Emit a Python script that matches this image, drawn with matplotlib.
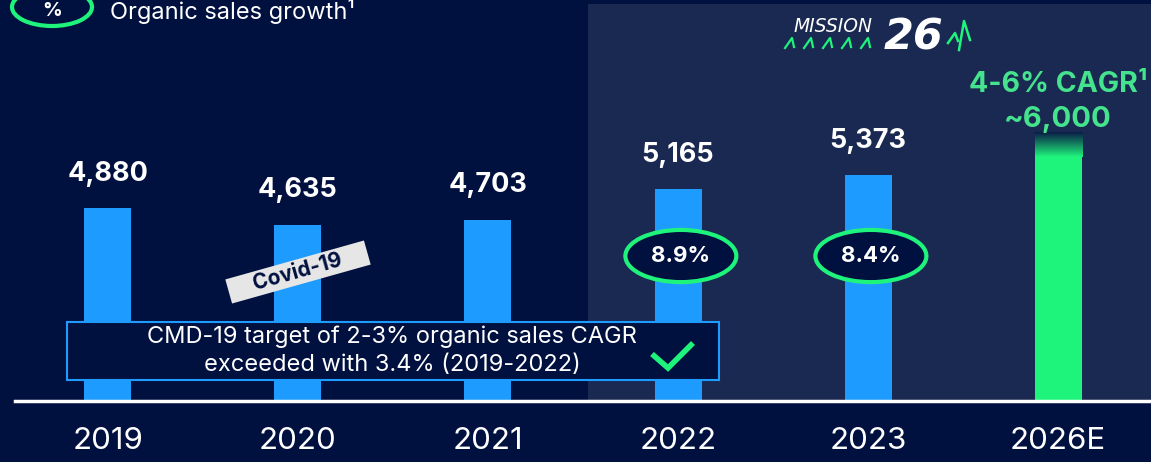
import matplotlib
matplotlib.use("Agg")
import matplotlib.pyplot as plt
from matplotlib.patches import Rectangle, Ellipse
from matplotlib.lines import Line2D
from matplotlib.transforms import Affine2D
import matplotlib.colors as mcolors
import numpy as np

# ---- data ----
years = ["2019", "2020", "2021", "2022", "2023", "2026E"]
sales = [4880, 4635, 4703, 5165, 5373, 6000]
growth_years = ["2022", "2023"]
growth_labels = ["8.9%", "8.4%"]
target_label = "4-6% CAGR\u00b9"
target_value_label = "~6,000"

BG = "#00103F"
PANEL = "#1A2951"
BLUE = "#1E9BFF"
GREEN = "#1EF47C"
LGREEN = "#45E38E"
WHITE = "#FFFFFF"

plt.rcParams['font.family'] = ['Inter', 'DejaVu Sans']

W, H = 1151, 462
fig = plt.figure(figsize=(W / 100, H / 100), dpi=100, facecolor=BG)


def fx(x):
    return x / W


def fy(y):
    return 1 - y / H


# shaded Mission-26 panel
fig.add_artist(Rectangle((fx(588), fy(400)), fx(1151) - fx(588), fy(4) - fy(400),
                         transform=fig.transFigure, facecolor=PANEL,
                         edgecolor='none', zorder=-5))

ax = fig.add_axes([fx(15), fy(401), fx(1151) - fx(15), 401 / H])
ax.set_facecolor('none')
YMIN, YMAX = 2000, 7994
XMIN, XMAX = -0.489, 5.489

x = np.arange(len(years))
bw = 47 / 190
colors = [BLUE] * (len(years) - 1) + [GREEN]
ax.bar(x, sales, width=bw, color=colors, zorder=2)

# gradient top of the estimate bar
n = 100
c_top = np.array(mcolors.to_rgb("#0A1C46"))
c_bot = np.array(mcolors.to_rgb(GREEN))
t = np.linspace(0, 1, n)[:, None]
grad = (c_top * (1 - t) + c_bot * t)[:, None, :]
i_last = len(years) - 1
ax.imshow(grad, extent=[i_last - bw / 2, i_last + bw / 2, sales[-1] - 360, sales[-1]],
          aspect='auto', origin='upper', zorder=3, interpolation='bilinear')

ax.set_xlim(XMIN, XMAX)
ax.set_ylim(YMIN, YMAX)

# value labels
for i, v in enumerate(sales[:-1]):
    ax.annotate(f"{v:,}", (i, v), xytext=(0, 25), textcoords='offset points',
                ha='center', va='center', color=WHITE, fontsize=19.5, fontweight='bold')
ax.annotate(target_value_label, (i_last, sales[-1]), xytext=(0, 10), textcoords='offset points',
            ha='center', va='center', color=LGREEN, fontsize=21, fontweight='bold', zorder=5)
ax.annotate(target_label, (i_last, sales[-1]), xytext=(0, 35), textcoords='offset points',
            ha='center', va='center', color=LGREEN, fontsize=20.5, fontweight='bold', zorder=5)

# growth ellipses
for gy, gl in zip(growth_years, growth_labels):
    i = years.index(gy)
    ax.add_patch(Ellipse((i + 0.015, 4167), 0.584, 780, facecolor=BG, edgecolor=GREEN,
                         lw=3, zorder=4))
    ax.text(i + 0.015, 4167, gl, ha='center', va='center', color=WHITE, fontsize=16,
            fontweight='bold', zorder=5)

# axis styling
for s in ax.spines.values():
    s.set_visible(False)
ax.set_yticks([])
ax.set_xticks(x, years)
ax.tick_params(axis='x', length=0, labelsize=22.5, labelcolor=WHITE, pad=19)
ax.axhline(YMIN, color=WHITE, lw=2.5, clip_on=False, zorder=6)

# CMD-19 box
fig.add_artist(Rectangle((fx(67), fy(380)), fx(719) - fx(67), fy(322) - fy(380),
                         transform=fig.transFigure, facecolor=BG, edgecolor=BLUE,
                         lw=1.5, zorder=5))
fig.text(fx(392), fy(351), "CMD-19 target of 2-3% organic sales CAGR\nexceeded with 3.4% (2019-2022)",
         ha='center', va='center', color=WHITE, fontsize=17, linespacing=1.33, zorder=6)
fig.add_artist(Line2D([fx(652), fx(668), fx(693)], [fy(354), fy(368), fy(343)],
                      transform=fig.transFigure, color=GREEN, lw=4, zorder=6,
                      solid_capstyle='butt', solid_joinstyle='miter'))

# Covid-19 tag
cx, cy, ang = 298, 272, 15.7
tr = Affine2D().rotate_deg_around(cx, H - cy, ang)
fig.add_artist(Rectangle((cx - 72, H - cy - 12.5), 144, 25, transform=tr,
                         facecolor="#E6E6E6", edgecolor='none', zorder=7))
fig.text(fx(cx), fy(cy), "Covid-19", rotation=ang, rotation_mode='anchor',
         ha='center', va='center', color=BG, fontsize=15, fontweight='bold', zorder=8)

# legend top-left
fig.add_artist(Ellipse((fx(52), fy(7)), 80 / W, 38 / H, transform=fig.transFigure,
                       facecolor='none', edgecolor=GREEN, lw=3, zorder=6))
fig.text(fx(52), fy(11), "%", ha='center', va='center', color=WHITE, fontsize=14,
         fontweight='bold')
fig.text(fx(110), fy(12), "Organic sales growth\u00b9", ha='left', va='center', color=WHITE,
         fontsize=17)

# Mission 26 logo
fig.text(fx(793), fy(27), "MISSION", ha='left', va='center', color=WHITE, fontsize=13.5,
         family='DejaVu Sans', style='oblique')
fig.text(fx(884), fy(37), "26", ha='left', va='center', color=WHITE, fontsize=31,
         family='DejaVu Sans', style='oblique', fontweight='bold')
for k in range(5):
    x0 = 785 + k * 19
    fig.add_artist(Line2D([fx(x0), fx(x0 + 7), fx(x0 + 9)], [fy(48), fy(38), fy(47)],
                          transform=fig.transFigure, color=GREEN, lw=1.6))
fig.add_artist(Line2D([fx(948), fx(955), fx(958)], [fy(43), fy(33), fy(41)],
                      transform=fig.transFigure, color=GREEN, lw=1.8))
fig.add_artist(Line2D([fx(959), fx(964), fx(970)], [fy(50), fy(21), fy(40)],
                      transform=fig.transFigure, color=GREEN, lw=1.8))

fig.savefig("out.png", dpi=100, facecolor=BG)
